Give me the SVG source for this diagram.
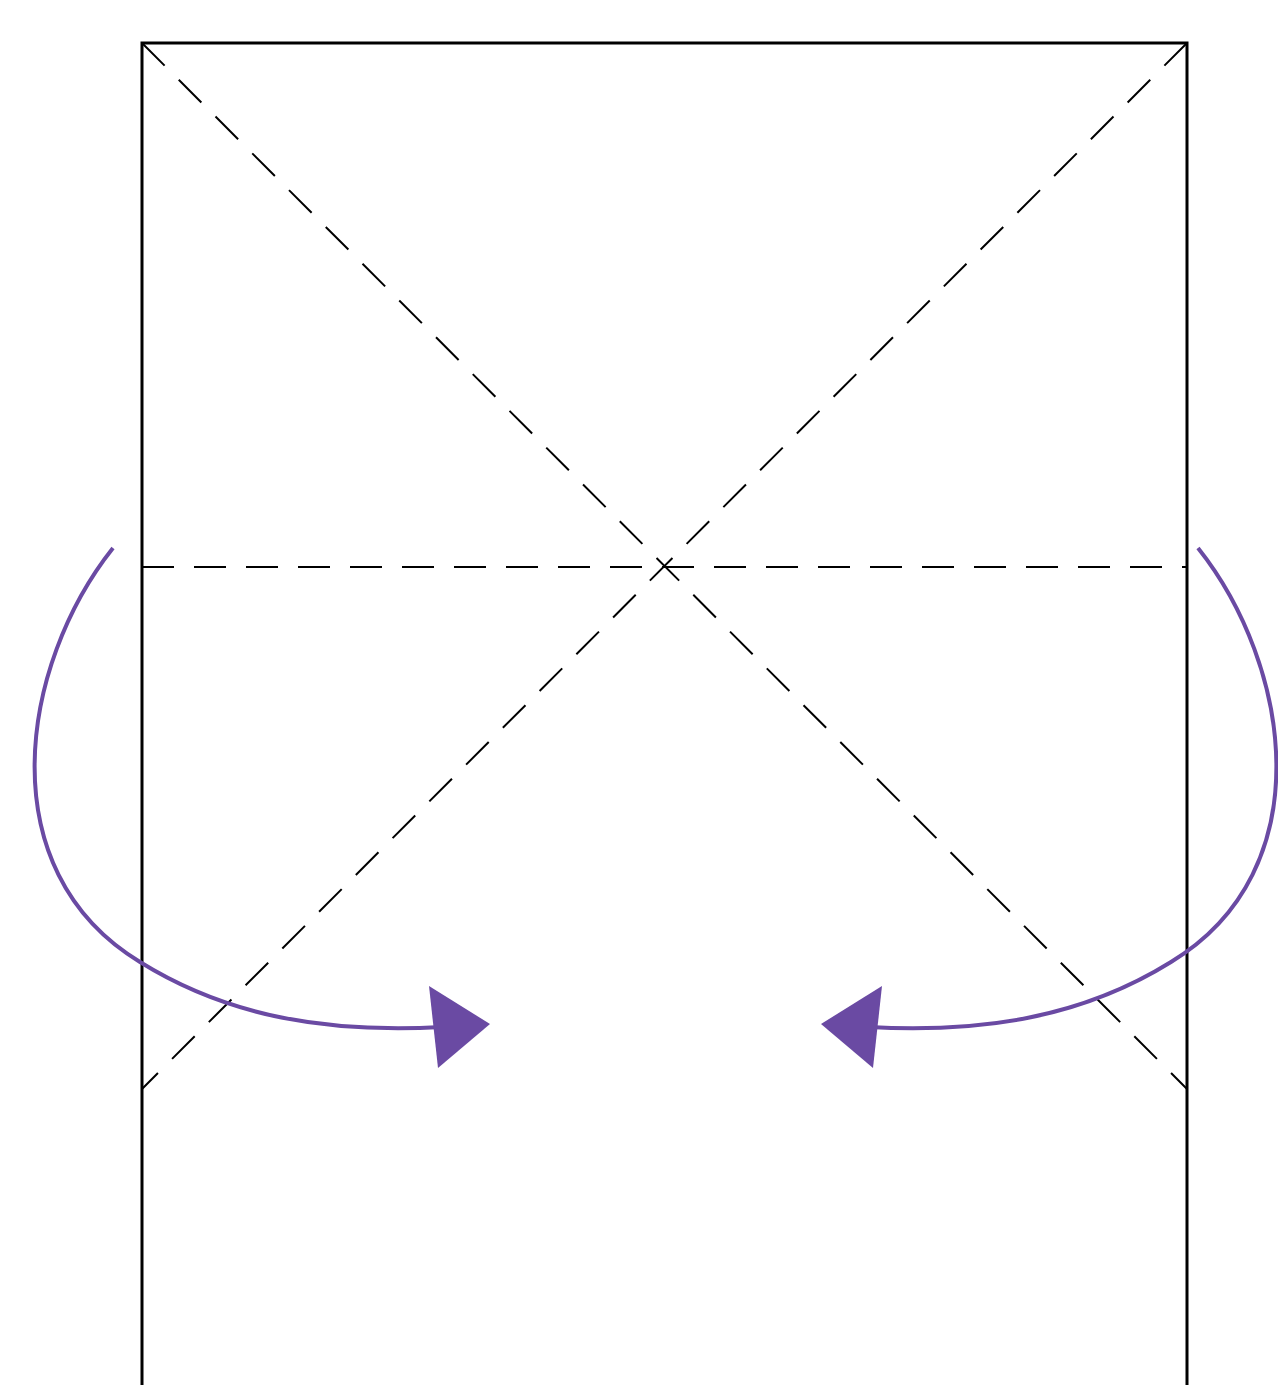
<svg xmlns="http://www.w3.org/2000/svg" width="1278" height="1385" viewBox="0 0 1278 1385">
<style>
.edge{fill:none;stroke:#000;stroke-width:3}
.crease{fill:none;stroke:#000;stroke-width:2;stroke-dasharray:32 20}
.arc{fill:none;stroke:#6a4aa3;stroke-width:4}
.head{fill:#6a4aa3}
</style>
<rect width="1278" height="1385" fill="#fff"/>
<g id="paper">
<path class="edge" d="M142,1400 V43 H1187 V1400"/>
</g>
<g id="creases">
<line class="crease" x1="142" y1="43" x2="1187" y2="1089"/>
<line class="crease" x1="1187" y1="43" x2="142" y2="1089"/>
<line class="crease" x1="142" y1="567" x2="1187" y2="567"/>
</g>
<g id="connectors">
<g id="arrow-left">
<path class="arc" d="M113,548 C20,665 -12,870 140,962 C230,1018 330,1033 442,1027"/>
<polygon class="head" points="490,1024 429,986 438,1068"/>
</g>
<g id="arrow-right">
<path class="arc" d="M1198,548 C1291,665 1323,870 1171,962 C1081,1018 981,1033 869,1027"/>
<polygon class="head" points="821,1024 882,986 873,1068"/>
</g>
</g>
</svg>
